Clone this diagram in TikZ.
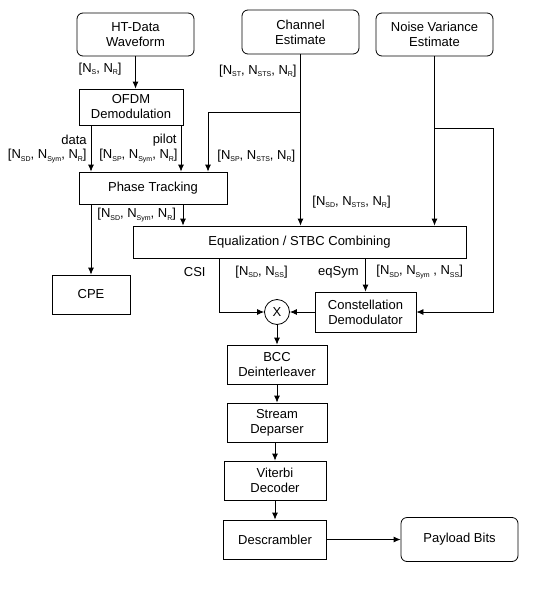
\documentclass[tikz,border=0pt]{standalone}
\usepackage{fontspec}
\setmainfont{Liberation Sans}
\usetikzlibrary{arrows.meta}
\newcommand{\ix}[1]{\raisebox{-0.35ex}{\fontsize{7}{8}\selectfont #1}}

\begin{document}
\begin{tikzpicture}[x=1pt, y=-1pt, every node/.style={font=\fontsize{13}{15}\selectfont, align=center}, >={Latex[length=7pt, width=6pt]}, line width=0.8pt, blk/.style={draw, inner sep=0pt}, term/.style={draw, rounded corners=6pt, inner sep=0pt, minimum width=117pt, minimum height=43pt}, lbl/.style={inner sep=0pt}]
	\useasboundingbox (0,0) rectangle (539,602);
	\node[term] (wave) at (135.5,34.5) {HT-Data\\Waveform};
	\node[term, minimum height=44pt] (chan) at (300.5,32) {Channel\\Estimate};
	\node[term] (noise) at (434.5,34.5) {Noise Variance\\Estimate};
	\node[blk, minimum width=104pt, minimum height=36pt] (ofdm) at (131,107) {OFDM\\Demodulation};
	\node[blk, minimum width=148pt, minimum height=32pt] (pt) at (153,188) {Phase Tracking};
	\node[blk, minimum width=333pt, minimum height=32pt] (eq) at (299.5,242) {Equalization / STBC Combining};
	\node[blk, minimum width=78pt, minimum height=39pt] (cpe) at (91,294.5) {CPE};
	\node[blk, minimum width=101pt, minimum height=40pt] (cons) at (365.5,312) {Constellation\\Demodulator};
	\node[draw, circle, inner sep=0pt, minimum size=25pt] (mult) at (277,312) {X};
	\node[blk, minimum width=100pt, minimum height=39pt] (bcc) at (277,364.5) {BCC\\Deinterleaver};
	\node[blk, minimum width=100pt, minimum height=39pt] (stream) at (277,422.5) {Stream\\Deparser};
	\node[blk, minimum width=102pt, minimum height=39pt] (vit) at (275,480.5) {Viterbi\\Decoder};
	\node[blk, minimum width=103pt, minimum height=39pt] (desc) at (275,539.5) {Descrambler};
	\node[term, minimum height=44pt] (pay) at (459.5,539.5) {Payload Bits};
	\coordinate (chsplit) at (300.5,112);
	\coordinate (nvsplit) at (434.5,128);
	\coordinate (nvcorner) at (493,128);
	\coordinate (csi) at (219,258);
	\draw[->] (wave.south) -- (wave.south |- ofdm.north);
	\draw[->] ([xshift=-40pt]ofdm.south) -- ([xshift=-40pt]ofdm.south |- pt.north);
	\draw[->] ([xshift=50pt]ofdm.south) -- ([xshift=50pt]ofdm.south |- pt.north);
	\draw[->] (chan.south) -- (chan.south |- eq.north);
	\draw[->] (chsplit) -| ([xshift=55pt]pt.north);
	\draw[->] (noise.south) -- (noise.south |- eq.north);
	\draw[->] (nvsplit) -- (nvcorner) |- (cons.east);
	\draw[->] (pt.south -| cpe.north) -- (cpe.north);
	\draw[->] ([xshift=30pt]pt.south) -- ([xshift=30pt]pt.south |- eq.north);
	\draw[->] (csi) |- (mult.west);
	\draw[->] (eq.south -| cons.north) -- (cons.north);
	\draw[->] (cons.west) -- (mult.east);
	\draw[->] (mult.south) -- (bcc.north);
	\draw[->] (bcc.south) -- (stream.north);
	\draw[->] (stream.south -| vit.north) -- (vit.north);
	\draw[->] (vit.south) -- (desc.north);
	\draw[->] (desc.east) -- (pay.west);
	\node[lbl, anchor=east] (l1) at (122,69) {[N\ix{S}, N\ix{R}]};
	\node[lbl, anchor=east] (l2) at (297,71) {[N\ix{ST}, N\ix{STS}, N\ix{R}]};
	\node[lbl, anchor=east] (l3) at (87,140) {data};
	\node[lbl, anchor=east] (l4) at (87,156) {[N\ix{SD}, N\ix{Sym}, N\ix{R}]};
	\node[lbl, anchor=east] (l5) at (177,140) {pilot};
	\node[lbl, anchor=east] (l6) at (178,156) {[N\ix{SP}, N\ix{Sym}, N\ix{R}]};
	\node[lbl, anchor=west] (l7) at (217,156) {[N\ix{SP}, N\ix{STS}, N\ix{R}]};
	\node[lbl, anchor=west] (l8) at (97,215) {[N\ix{SD}, N\ix{Sym}, N\ix{R}]};
	\node[lbl, anchor=west] (l9) at (312,202) {[N\ix{SD}, N\ix{STS}, N\ix{R}]};
	\node[lbl, anchor=east] (l10) at (206,272) {CSI};
	\node[lbl, anchor=west] (l11) at (235,272) {[N\ix{SD}, N\ix{SS}]};
	\node[lbl, anchor=east] (l12) at (359,272) {eqSym};
	\node[lbl, anchor=west] (l13) at (376,272) {[N\ix{SD}, N\ix{Sym} , N\ix{SS}]};
\end{tikzpicture}
\end{document}
